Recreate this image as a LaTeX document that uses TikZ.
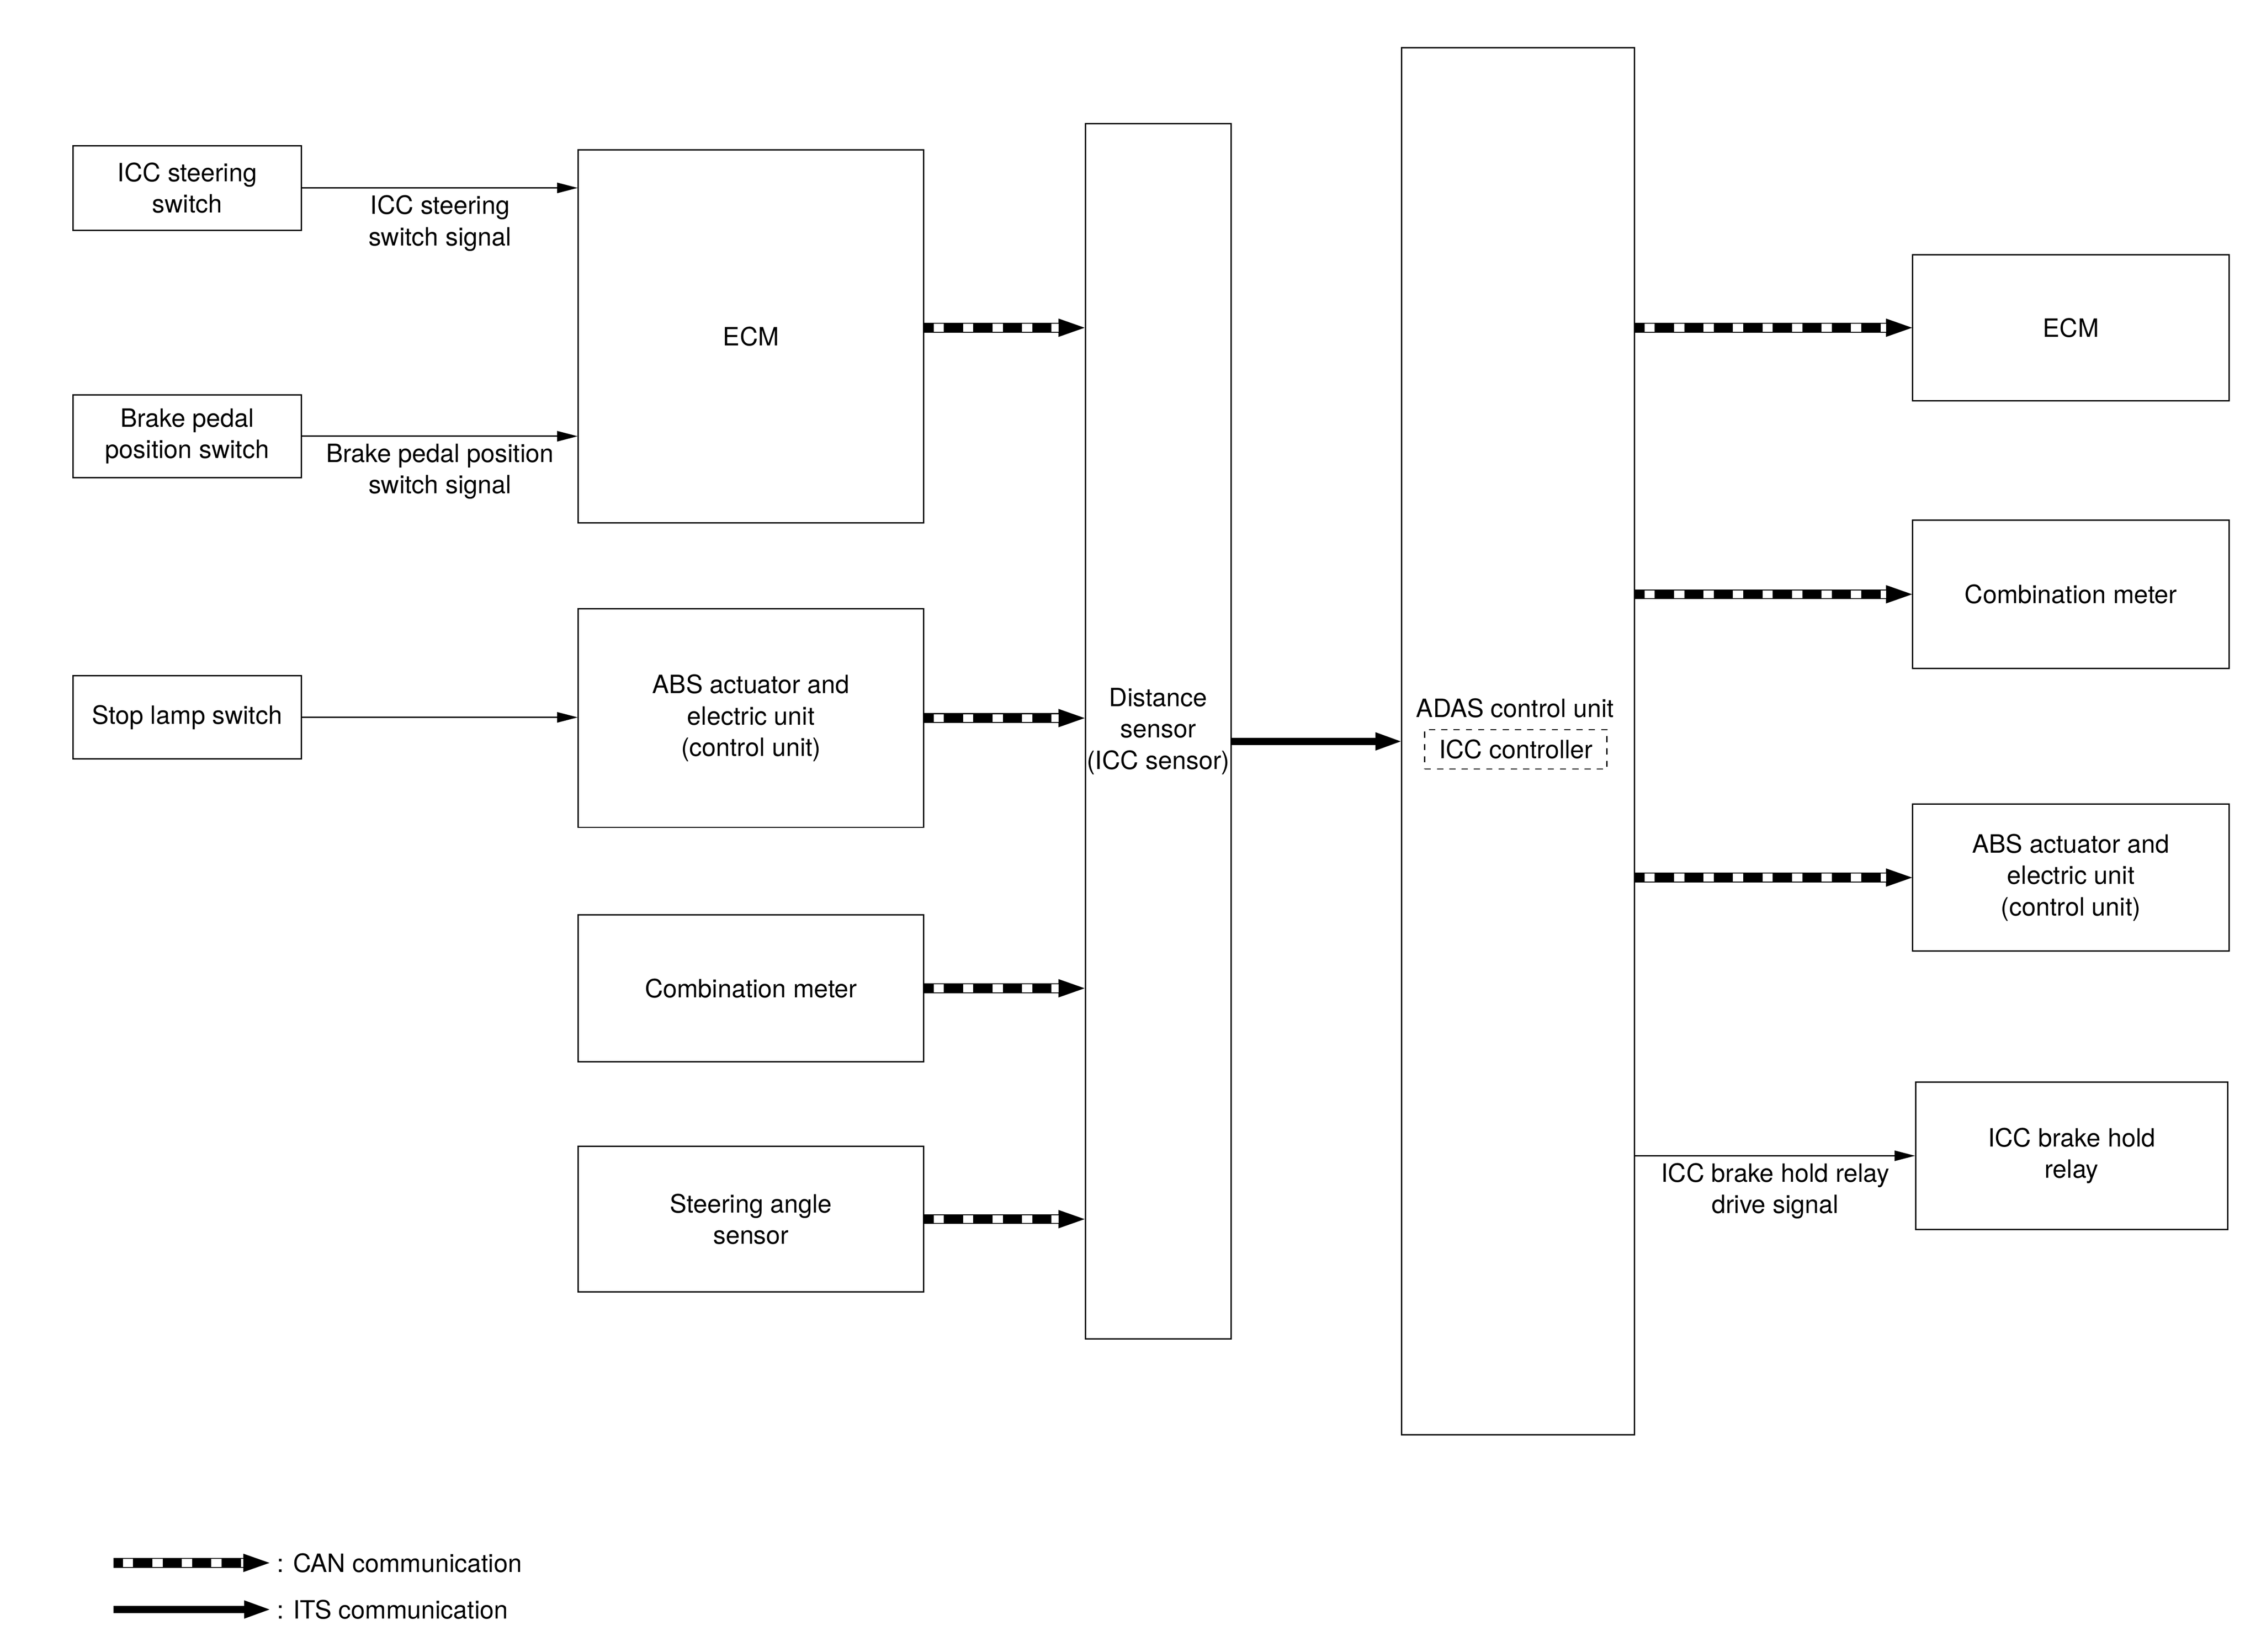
\documentclass[tikz,border=0pt]{standalone}
\usepackage{fontspec}
\setmainfont{TeX Gyre Heros}
\usepackage{tikz}
\usetikzlibrary{arrows.meta}

\begin{document}
\begin{tikzpicture}[x=0.025cm, y=-0.025cm, font=\fontsize{12.3pt}{15.3pt}\selectfont]

          \tikzstyle{unitBox} = [draw, line width=0.66pt, align=center, inner sep=0pt];
          \tikzstyle{controllerBox} = [draw, dashed, line width=0.6pt, minimum width=3.125cm, minimum height=0.675cm, inner sep=0pt];
          \tikzstyle{signalEdge} = [line width=0.66pt, -{Triangle[length=10pt,width=5.2pt,line width=0pt]}];
          \tikzstyle{signalLabel} = [below, align=center];
          \tikzstyle{itsEdge} = [line width=3.4pt, -{Triangle[length=12.4pt,width=9pt,line width=0pt]}];
          \tikzstyle{canEdge} = [line width=4.8pt, -{Triangle[length=12.8pt,width=9pt,line width=0pt]},
            postaction={draw=white, line width=3.8pt, dash pattern=on 5pt off 9.4pt, dash phase=9.9pt, shorten >=12.8pt, -}];

          \useasboundingbox (0,0) rectangle (1552,1134);

          \node[unitBox, minimum width=3.925cm, minimum height=1.45cm] (iccSwitch) at (128.5,129) {ICC steering\\switch};
          \node[unitBox, minimum width=3.925cm, minimum height=1.425cm] (brakeSwitch) at (128.5,299.5) {Brake pedal\\position switch};
          \node[unitBox, minimum width=3.925cm, minimum height=1.425cm] (stopSwitch) at (128.5,492.5) {Stop lamp switch};

          \node[unitBox, minimum width=5.925cm, minimum height=6.4cm] (ecmIn) at (515.5,231) {ECM};
          \node[unitBox, minimum width=5.925cm, minimum height=3.75cm] (absIn) at (515.5,493) {ABS actuator and\\electric unit\\(control unit)};
          \node[unitBox, minimum width=5.925cm, minimum height=2.525cm] (meterIn) at (515.5,678.5) {Combination meter};
          \node[unitBox, minimum width=5.925cm, minimum height=2.5cm] (steerSensor) at (515.5,837) {Steering angle\\sensor};

          \node[unitBox, minimum width=2.5cm, minimum height=20.85cm] (distSensor) at (795,502) {Distance\\sensor\\(ICC sensor)};

          \node[unitBox, minimum width=4cm, minimum height=23.8cm] (adas) at (1042,509) {};
          \node (adasTitle) at (1040,486) {ADAS control unit};
          \node[controllerBox] (iccController) at (1040.5,514.5) {ICC controller};

          \node[unitBox, minimum width=5.425cm, minimum height=2.5cm] (ecmOut) at (1421.5,225) {ECM};
          \node[unitBox, minimum width=5.425cm, minimum height=2.55cm] (meterOut) at (1421.5,408) {Combination meter};
          \node[unitBox, minimum width=5.425cm, minimum height=2.525cm] (absOut) at (1421.5,602.5) {ABS actuator and\\electric unit\\(control unit)};
          \node[unitBox, minimum width=5.35cm, minimum height=2.525cm] (relay) at (1422,793.5) {ICC brake hold\\relay};

          % switch signals
          \draw[signalEdge] (iccSwitch.east) -- (iccSwitch.east -| ecmIn.west)
            node[signalLabel, midway] (iccSignal) {ICC steering\\switch signal};
          \draw[signalEdge] (brakeSwitch.east) -- (brakeSwitch.east -| ecmIn.west)
            node[signalLabel, midway] (brakeSignal) {Brake pedal position\\switch signal};
          \draw[signalEdge] (stopSwitch.east) -- (stopSwitch.east -| absIn.west);

          % CAN into the distance sensor
          \coordinate (ecmCan) at ([yshift=0.15cm]ecmIn.east);
          \draw[canEdge] (ecmCan) -- (ecmCan -| distSensor.west);
          \draw[canEdge] (absIn.east) -- (absIn.east -| distSensor.west);
          \draw[canEdge] (meterIn.east) -- (meterIn.east -| distSensor.west);
          \draw[canEdge] (steerSensor.east) -- (steerSensor.east -| distSensor.west);

          % ITS
          \draw[itsEdge] (adas.west -| distSensor.east) -- (adas.west);

          % CAN out of the ADAS control unit
          \draw[canEdge] (ecmOut.west -| adas.east) -- (ecmOut.west);
          \draw[canEdge] (meterOut.west -| adas.east) -- (meterOut.west);
          \draw[canEdge] (absOut.west -| adas.east) -- (absOut.west);
          \draw[signalEdge] (relay.west -| adas.east) -- (relay.west)
            node[signalLabel, midway] (relaySignal) {ICC brake hold relay\\drive signal};

          % legend
          \node[anchor=west] (canLegend) at (185,1073) {: CAN communication};
          \node[anchor=west] (itsLegend) at (185,1105) {: ITS communication};
          \coordinate (canLegendStart) at (78,1073);
          \coordinate (itsLegendStart) at (78,1105);
          \draw[canEdge] (canLegendStart) -- (canLegend.west);
          \draw[itsEdge] (itsLegendStart) -- (itsLegend.west);
        \end{tikzpicture}
\end{document}
